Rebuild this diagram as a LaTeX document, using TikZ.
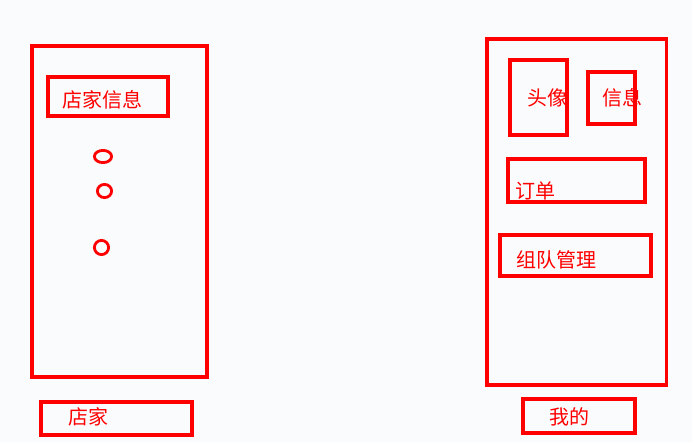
\documentclass[tikz,border=0pt]{standalone}
\usepackage{fontspec}
\setmainfont{Noto Sans CJK SC}
\definecolor{bg}{RGB}{250,251,253}
\definecolor{ink}{RGB}{255,0,0}
\tikzset{
  box/.style={draw=ink, line width=3.5pt, inner sep=0pt, outer sep=0pt},
  ring/.style={draw=ink, line width=2.8pt},
  lbl/.style={text=ink, inner sep=0pt, anchor=base west, font=\fontsize{20pt}{22pt}\selectfont},
}
\begin{document}
\begin{tikzpicture}[x=1pt,y=-1pt]
\fill[bg] (0,0) rectangle (692,442);
\useasboundingbox (0,0) rectangle (692,442);
% left column
\node[box, minimum width=175pt, minimum height=331pt] (shop) at (119.5,211.5) {};
\node[box, minimum width=120pt, minimum height=39pt] (shopinfo) at (108,96.5) {};
\node[lbl] (shopinfot) at (62,107.6) {店家信息};
\draw[ring] (103,156.5) ellipse [x radius=8.6, y radius=6.1];
\draw[ring] (104.5,191) ellipse [x radius=7.1, y radius=6.6];
\draw[ring] (101.5,247.5) ellipse [x radius=7.1, y radius=7.1];
\node[box, minimum width=151pt, minimum height=33pt] (shoptab) at (116.5,418.5) {};
\node[lbl] (shoptabt) at (68,424.1) {店家};
% right column
\node[box, minimum width=179.5pt, minimum height=346pt] (mine) at (576.75,212) {};
\node[box, minimum width=57pt, minimum height=75pt] (avatar) at (538.5,97.5) {};
\node[lbl] (avatart) at (527,105.1) {头像};
\node[box, minimum width=47pt, minimum height=52pt] (info) at (611.5,98) {};
\node[lbl] (infot) at (602,105.1) {信息};
\node[box, minimum width=137pt, minimum height=43pt] (order) at (576.5,180.5) {};
\node[lbl] (ordert) at (515,198.6) {订单};
\node[box, minimum width=151pt, minimum height=41pt] (team) at (575.5,255.5) {};
\node[lbl] (teamt) at (516,267.1) {组队管理};
\node[box, minimum width=112pt, minimum height=34pt] (minetab) at (579,416) {};
\node[lbl] (minetabt) at (549,424.1) {我的};
\end{tikzpicture}
\end{document}
